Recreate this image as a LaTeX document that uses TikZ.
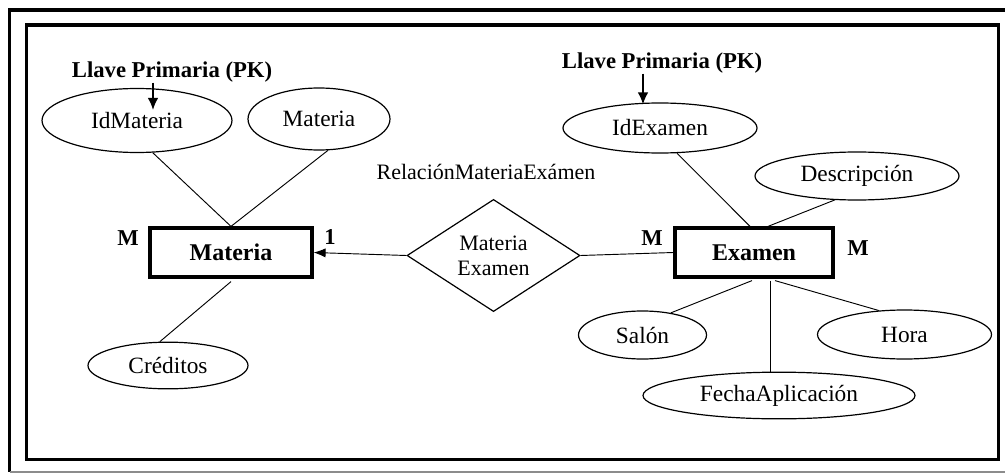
\documentclass[tikz,border=0pt]{standalone}
\usepackage{fontspec}
\setmainfont{Liberation Serif}
\usetikzlibrary{shapes.geometric,arrows.meta,calc}

\tikzset{
  attr/.style={ellipse, draw, line width=0.9pt, inner sep=0pt,
               font=\fontsize{17.5}{20}\selectfont},
  entity/.style={rectangle, draw, line width=2.4pt, inner sep=0pt,
                 font=\fontsize{18}{21}\selectfont\bfseries},
  relation/.style={diamond, draw, line width=0.9pt, inner sep=0pt,
                   align=center, font=\fontsize{16.5}{19}\selectfont},
  label/.style={inner sep=0pt, font=\fontsize{17}{20}\selectfont\bfseries},
  plain/.style={inner sep=0pt, font=\fontsize{16.5}{19}\selectfont},
  link/.style={line width=0.7pt},
  pkarrow/.style={line width=1.2pt, -{Latex[length=9pt,width=8pt]}},
  frame/.style={line width=2.6pt, line join=miter},
}

\begin{document}
\begin{tikzpicture}[x=0.75pt, y=-0.75pt]
  \useasboundingbox (0,0) rectangle (1005,474);

  % double frame around the diagram
  \draw[frame] (1010,10) -- (9.5,10) -- (9.5,472);
  \draw[line width=0.8pt, black!45] (9.5,472) -- (1010,472);
  \draw[frame] (26.5,25) rectangle (998.5,459.5);

  % entities
  \node[entity, minimum width=121.5pt, minimum height=36.75pt] (mat) at (231,252.5) {Materia};
  \node[entity, minimum width=118.5pt, minimum height=36.75pt] (exa) at (754,252.5) {Examen};

  % relationship
  \node[relation, minimum width=129.75pt, minimum height=83.25pt] (rel) at (493.5,255.5) {Materia\\Examen};
  \node[plain] (reltxt) at (486,172) {RelaciónMateriaExámen};

  % attributes of Materia
  \node[attr, minimum width=142.5pt, minimum height=48pt] (idm) at (137,120.5) {IdMateria};
  \node[attr, minimum width=106.5pt, minimum height=46.5pt] (mattr) at (319,119) {Materia};
  \node[attr, minimum width=120pt, minimum height=35pt] (cred) at (168,365.5) {Créditos};

  % attributes of Examen
  \node[attr, minimum width=145.5pt, minimum height=37.5pt] (idex) at (660,128) {IdExamen};
  \node[attr, minimum width=153pt, minimum height=36pt] (desc) at (857,176) {Descripción};
  \node[attr, minimum width=96pt, minimum height=36pt] (salon) at (642.5,335) {Salón};
  \node[attr, minimum width=130.5pt, minimum height=36.75pt] (hora) at (904.5,334.5) {Hora};
  \node[attr, minimum width=204pt, minimum height=35pt] (fecha) at (779,395.5) {FechaAplicación};

  % primary key notes
  \node[label] (pk1) at (172,72) {Llave Primaria (PK)};
  \node[label] (pk2) at (662,63) {Llave Primaria (PK)};
  \draw[pkarrow] ($(pk1.south)+(-19,0)$) -- ($(idm.north)+(16,22)$);
  \draw[pkarrow] ($(pk2.south)+(-19,0)$) -- ($(idex.north)+(-17,2)$);

  % cardinalities
  \node[label] (m1) at (128,238) {M};
  \node[label] (c1) at (330,237) {1};
  \node[label] (m2) at (652,238) {M};
  \node[label] (m3) at (858,248) {M};

  % attribute links
  \draw[link] (idm.-64) -- (mat.north);
  \draw[link] (mattr.-74) -- (mat.north);
  \draw[link] ($(mat.south)+(0,3)$) -- (cred.109);
  \draw[link] (idex.-56) -- ($(exa.north)+(-4,0)$);
  \draw[link] (desc.-133) -- ($(exa.north)+(14,0)$);
  \draw[link] ($(exa.south)+(-2,2)$) -- (salon.38);
  \draw[link] ($(exa.south)+(21,2)$) -- (hora.137);
  \coordinate (fechatop) at ($(exa.south)+(16,2)$);
  \draw[link] (fechatop) -- (fechatop |- fecha.north);

  % relationship links
  \draw[link, -{Latex[length=9pt,width=7pt]}] (rel.west) -- (mat.east);
  \draw[link] (rel.east) -- (exa.west);
\end{tikzpicture}
\end{document}
